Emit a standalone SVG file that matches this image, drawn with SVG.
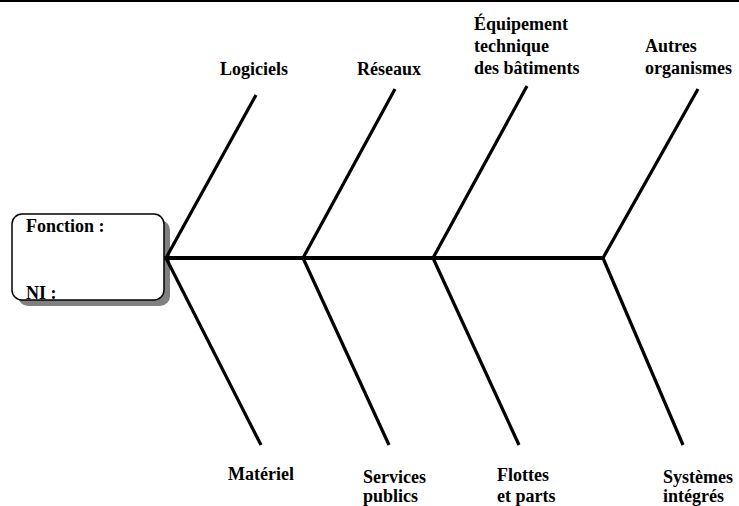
<svg xmlns="http://www.w3.org/2000/svg" width="739" height="506" viewBox="0 0 739 506">
  <style>
    .lbl { font-family: "Liberation Serif", "Times New Roman", serif; font-size: 18px; font-weight: bold; fill: #000; }
    .bone { stroke: #000; stroke-width: 3.2; fill: none; stroke-linecap: butt; }
    .spine { stroke: #000; stroke-width: 4; fill: none; }
  </style>
  <rect x="0" y="0" width="739" height="2" fill="#000"/>

  <!-- head box -->
  <g id="head">
    <rect x="18" y="220" width="152" height="86" rx="10" fill="#808080"/>
    <rect x="12" y="214" width="152" height="86" rx="10" fill="#fff" stroke="#000" stroke-width="1.5"/>
    <text class="lbl" x="26" y="232">Fonction :</text>
    <text class="lbl" x="26" y="299">NI :</text>
  </g>

  <!-- spine and ribs -->
  <g id="connectors">
    <line class="spine" x1="164" y1="258" x2="604" y2="258"/>
    <line class="bone" x1="166" y1="258" x2="256" y2="95"/>
    <line class="bone" x1="303" y1="258" x2="395" y2="89"/>
    <line class="bone" x1="433" y1="258" x2="527" y2="86"/>
    <line class="bone" x1="603" y1="258" x2="698" y2="89"/>
    <line class="bone" x1="166" y1="258" x2="261" y2="445"/>
    <line class="bone" x1="303" y1="258" x2="389" y2="445"/>
    <line class="bone" x1="433" y1="258" x2="519" y2="445"/>
    <line class="bone" x1="603" y1="258" x2="683" y2="445"/>
  </g>

  <!-- cause categories -->
  <g id="logiciels"><text class="lbl" x="220" y="75">Logiciels</text></g>
  <g id="reseaux"><text class="lbl" x="357" y="75">Réseaux</text></g>
  <g id="equipement">
    <text class="lbl" x="474" y="30">Équipement</text>
    <text class="lbl" x="474" y="52">technique</text>
    <text class="lbl" x="474" y="74">des bâtiments</text>
  </g>
  <g id="autres">
    <text class="lbl" x="645" y="52">Autres</text>
    <text class="lbl" x="645" y="74">organismes</text>
  </g>
  <g id="materiel"><text class="lbl" x="228" y="480">Matériel</text></g>
  <g id="services">
    <text class="lbl" x="363" y="483">Services</text>
    <text class="lbl" x="363" y="502">publics</text>
  </g>
  <g id="flottes">
    <text class="lbl" x="497" y="481">Flottes</text>
    <text class="lbl" x="497" y="502">et parts</text>
  </g>
  <g id="systemes">
    <text class="lbl" x="663" y="483">Systèmes</text>
    <text class="lbl" x="663" y="502">intégrés</text>
  </g>
</svg>
